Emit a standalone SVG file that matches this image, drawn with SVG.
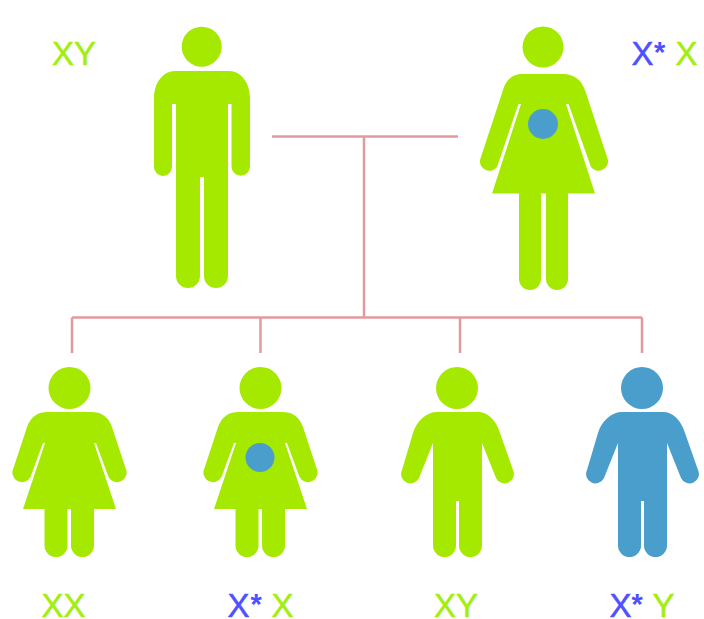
<svg xmlns="http://www.w3.org/2000/svg" width="704" height="619" viewBox="0 0 704 619">
<style>
.g{fill:#a5e900}
.b{fill:#4a9ecb}
.c{fill:none;stroke:#e39a9e;stroke-width:2.500}
text{font-family:"Liberation Sans",Arial,sans-serif;font-size:33px}
.tg{fill:#a3ee10;stroke:#a3ee10;stroke-width:.5}
.tb{fill:#4f50ff;stroke:#4f50ff;stroke-width:.5}
.st{font-weight:bold;font-size:29px;stroke:none}
</style>
<defs>
<path id="lw" d="M48 412H91C101 412 108 416 112 427L125.500 468A9 9 0 0 1 108.500 477L96 443H94L116 509H94V545.500A11.500 11.500 0 0 1 71 545.500V509H67.500V545.500A11.500 11.500 0 0 1 44.500 545.500V509H23L45 443H43L30.500 477A9 9 0 0 1 13.500 468L27 427C31 416 38 412 48 412Z"/>
<path id="lm" d="M437 412H478C488 412 496 420 500 433L513 470A9 9 0 0 1 496 478L482 443V545.500A11.500 11.500 0 0 1 459 545.500V501H456V545.500A11.500 11.500 0 0 1 433 545.500V443L419 478A9 9 0 0 1 402 470L413 433C417 420 427 412 437 412Z"/>
</defs>
<g id="connectors">
<path class="c" d="M272 136.500H458M364 136.500V317.500M72 317.500H642M72 317.500V353M260.500 317.500V353M460 317.500V353M642 317.500V353"/>
</g>
<g id="father" class="g">
<circle cx="201.700" cy="46.700" r="20"/>
<path d="M175 71H229C241 71 250 83 250 98V166.500A9.250 9.250 0 0 1 231.500 166.500V104H228V276A12 12 0 0 1 204 276V177H200V276A12 12 0 0 1 176 276V104H172V167A9 9 0 0 1 154 167V98C154 83 163 71 175 71Z"/>
</g>
<g id="mother">
<g class="g">
<circle cx="543" cy="47" r="20.500"/>
<path d="M523 74H563C573 74 581 79 585 90L608 160A9.500 9.500 0 0 1 591 167L568.500 104H566L595 193.500H568V279A11 11 0 0 1 546 279V193.500H541V279A11 11 0 0 1 519 279V193.500H492L521 104H518.500L497 167A9.500 9.500 0 0 1 480 160L503 90C506 79 513 74 523 74Z"/>
</g>
<circle class="b" cx="543" cy="124" r="15"/>
</g>
<g id="daughter1" class="g">
<circle cx="69.500" cy="388" r="21"/>
<use href="#lw"/>
</g>
<g id="daughter2">
<g class="g">
<circle cx="260.500" cy="388" r="21"/>
<use href="#lw" x="191"/>
</g>
<circle class="b" cx="260" cy="457.500" r="14.500"/>
</g>
<g id="son1" class="g">
<circle cx="457" cy="388" r="21"/>
<use href="#lm"/>
</g>
<g id="son2" class="b">
<circle cx="642" cy="388" r="21"/>
<use href="#lm" x="185"/>
</g>
<g id="labels">
<text class="tg" x="52" y="65">XY</text>
<text x="631.500" y="65"><tspan class="tb">X</tspan><tspan class="tb st" x="654" y="62">* </tspan><tspan class="tg" x="675.500" y="65">X</tspan></text>
<text class="tg" x="41.500" y="617">XX</text>
<text x="227.500" y="617"><tspan class="tb">X</tspan><tspan class="tb st" x="250.500" y="614">* </tspan><tspan class="tg" x="271.500" y="617">X</tspan></text>
<text class="tg" x="434" y="617">XY</text>
<text x="609.500" y="617"><tspan class="tb">X</tspan><tspan class="tb st" x="631.500" y="614">* </tspan><tspan class="tg" x="652.500" y="617">Y</tspan></text>
</g>
</svg>
